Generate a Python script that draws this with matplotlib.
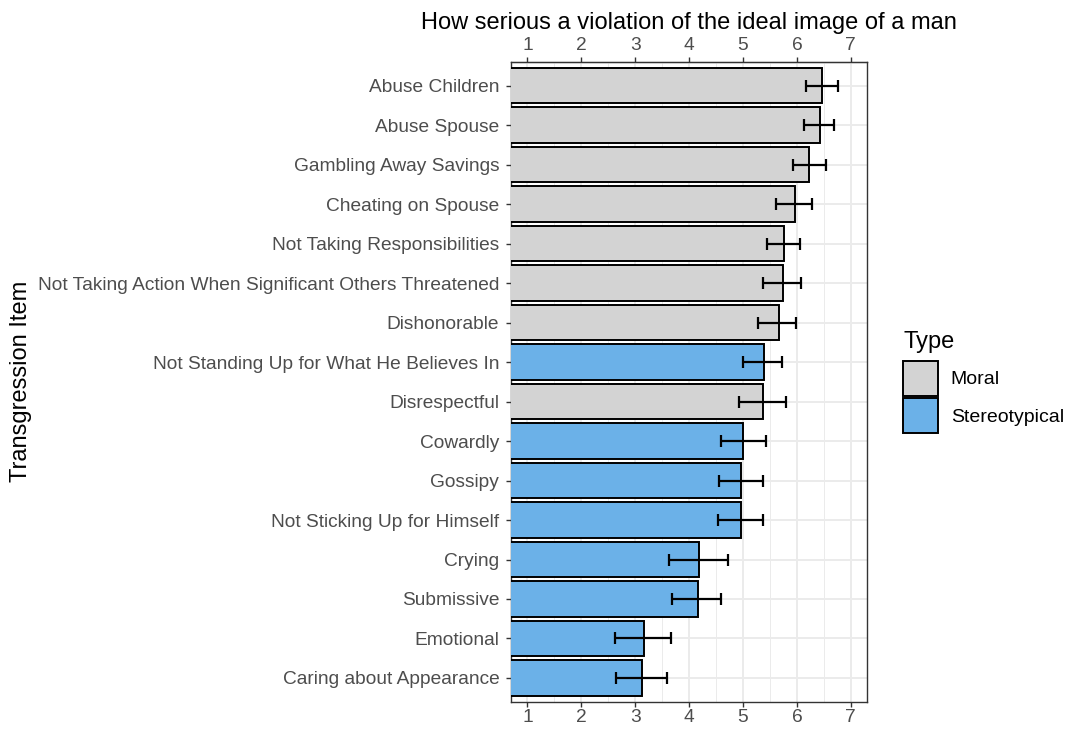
import numpy as np
import matplotlib
matplotlib.use("Agg")
import matplotlib.pyplot as plt
from matplotlib.patches import Patch

plt.rcParams['font.family'] = ['Liberation Sans', 'DejaVu Sans']

# transgression items, top to bottom
items = ["Abuse Children", "Abuse Spouse", "Gambling Away Savings", "Cheating on Spouse",
         "Not Taking Responsibilities", "Not Taking Action When Significant Others Threatened",
         "Dishonorable", "Not Standing Up for What He Believes In", "Disrespectful",
         "Cowardly", "Gossipy", "Not Sticking Up for Himself", "Crying", "Submissive",
         "Emotional", "Caring about Appearance"]
types = ["Moral", "Moral", "Moral", "Moral", "Moral", "Moral", "Moral", "Stereotypical",
         "Moral", "Stereotypical", "Stereotypical", "Stereotypical", "Stereotypical",
         "Stereotypical", "Stereotypical", "Stereotypical"]
means = [6.47, 6.43, 6.23, 5.96, 5.76, 5.74, 5.66, 5.39, 5.37, 5.00, 4.96, 4.96, 4.19, 4.17, 3.16, 3.12]
lower = [6.16, 6.14, 5.92, 5.62, 5.44, 5.38, 5.28, 5.00, 4.93, 4.60, 4.56, 4.54, 3.63, 3.68, 2.62, 2.64]
upper = [6.77, 6.69, 6.54, 6.28, 6.05, 6.08, 5.99, 5.73, 5.79, 5.42, 5.37, 5.38, 4.73, 4.60, 3.67, 3.59]

fill = {"Moral": "#D3D3D3", "Stereotypical": "#6BB1E8"}
grey30 = "#4D4D4D"
grey20 = "#333333"
tick_fs = 13.8
title_fs = 17

fig = plt.figure(figsize=(10.75, 7.29), dpi=100)
ax = fig.add_axes([0.4755, 0.0375, 0.331, 0.8775])

n = len(items)
y = np.arange(n)[::-1]
m = np.array(means)
err = np.array([m - np.array(lower), np.array(upper) - m])

ax.barh(y, m, height=0.9, color=[fill[t] for t in types], edgecolor="black",
        linewidth=1.4, zorder=3)
ax.errorbar(m, y, xerr=err, fmt="none", ecolor="black", elinewidth=1.6,
            capsize=4.5, capthick=1.6, zorder=4)

ax.set_xlim(0.7, 7.3)
ax.set_ylim(-0.6, n - 0.4)
ax.set_xticks(range(1, 8))
ax.set_xticks(np.arange(1.5, 7, 1), minor=True)
ax.set_yticks(y)
ax.set_yticklabels(items)
ax.grid(which="major", color="#EBEBEB", linewidth=1.4, zorder=0)
ax.grid(which="minor", axis="x", color="#EBEBEB", linewidth=0.7, zorder=0)
ax.tick_params(axis="both", which="major", labelsize=tick_fs, labelcolor=grey30,
               color=grey20, length=3.5, width=1.0)
ax.tick_params(axis="x", which="minor", length=0)
ax.tick_params(axis="x", pad=2)
ax.tick_params(axis="y", pad=5)
for s in ax.spines.values():
    s.set_color(grey20)
    s.set_linewidth(1.0)

top = ax.secondary_xaxis("top")
top.set_xticks(range(1, 8))
top.tick_params(labelsize=tick_fs, labelcolor=grey30, color=grey20, length=3.5, width=1.0, pad=2)
top.set_xlabel("How serious a violation of the ideal image of a man", fontsize=title_fs, labelpad=6)

# y title sits at the far left of the figure
fig.text(0.0195, 0.477, "Transgression Item", fontsize=title_fs, rotation=90,
         ha="center", va="center")

handles = [Patch(facecolor=fill[k], edgecolor="black", linewidth=1.4) for k in ["Moral", "Stereotypical"]]
leg = fig.legend(handles, ["Moral", "Stereotypical"], title="Type", loc="upper left",
                 bbox_to_anchor=(0.8275, 0.565), frameon=False, fontsize=14,
                 title_fontsize=title_fs, handlelength=1.8, handleheight=2.35,
                 labelspacing=0.15, handletextpad=0.65, borderpad=0.2)
leg._legend_box.align = "left"
leg._legend_box.sep = 6

fig.savefig("out.png", dpi=100)
